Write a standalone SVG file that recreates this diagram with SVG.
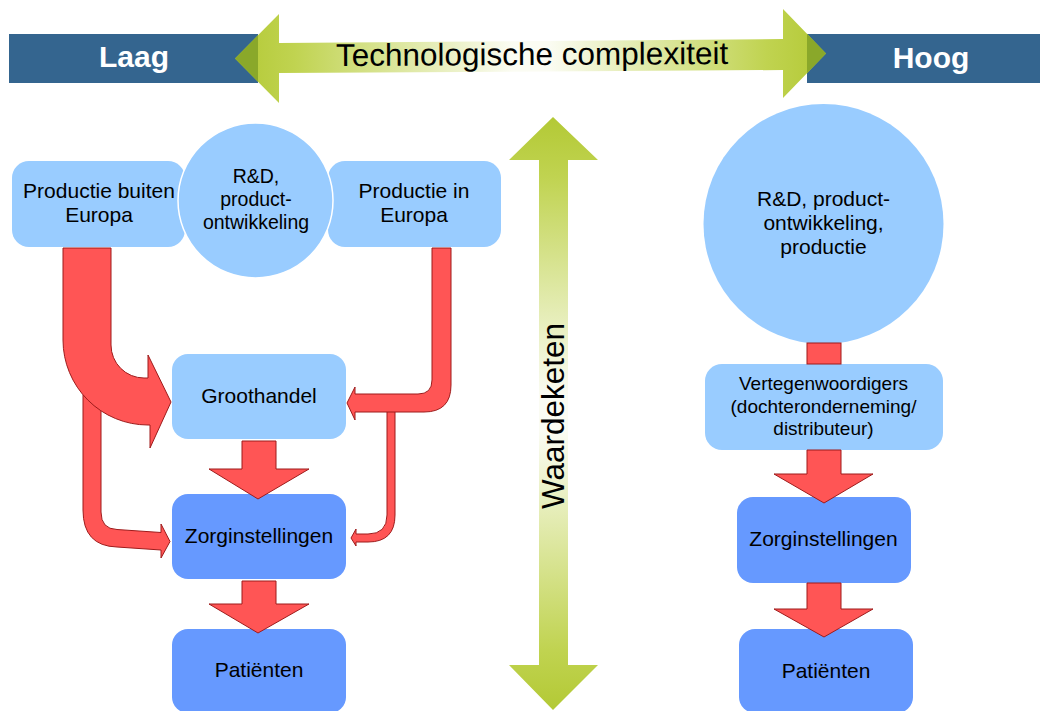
<svg xmlns="http://www.w3.org/2000/svg" width="1046" height="711" viewBox="0 0 1046 711">
<style>
text{font-family:"Liberation Sans",Arial,sans-serif;fill:#000;text-anchor:middle}
.bar{fill:#34658f}
.bartxt{fill:#fff;font-weight:bold;font-size:30px}
.big{font-size:31.5px}
.lt{fill:#99ccff}
.dk{fill:#6699ff}
.circ{fill:#99ccff;stroke:#fff;stroke-width:1.5}
.t21{font-size:21px}
.t19{font-size:19.5px}
.red{fill:#ff5555;stroke:#9e1b1b;stroke-width:1}
.dark{fill:#8aa82a}
</style>
<defs>
<linearGradient id="gh" gradientUnits="userSpaceOnUse" x1="235" y1="0" x2="826" y2="0">
<stop offset="0" stop-color="#b3c935"/>
<stop offset="0.1" stop-color="#c0d350"/>
<stop offset="0.47" stop-color="#fbfcf3"/>
<stop offset="0.53" stop-color="#fbfcf3"/>
<stop offset="0.9" stop-color="#c0d350"/>
<stop offset="1" stop-color="#b3c935"/>
</linearGradient>
<linearGradient id="gv" gradientUnits="userSpaceOnUse" x1="0" y1="117" x2="0" y2="710">
<stop offset="0" stop-color="#b3c935"/>
<stop offset="0.1" stop-color="#c0d350"/>
<stop offset="0.47" stop-color="#fbfcf3"/>
<stop offset="0.53" stop-color="#fbfcf3"/>
<stop offset="0.9" stop-color="#c0d350"/>
<stop offset="1" stop-color="#b3c935"/>
</linearGradient>
</defs>
<rect width="1046" height="711" fill="#fff"/>

<g id="axis-top">
<rect class="bar" x="9" y="34" width="249" height="49"/>
<rect class="bar" x="807" y="34" width="233" height="49"/>
<text class="bartxt" x="134" y="67">Laag</text>
<text class="bartxt" x="931" y="68">Hoog</text>
<polygon fill="url(#gh)" points="235,58.5 279,14 279,43 783,39 783,9 826,53.5 783,98 783,70 279,73 279,103"/>
<polygon class="dark" points="235,58.5 258,35.2 258,81.8"/>
<polygon class="dark" points="807,33.8 826,53.5 807,73.2"/>
<text class="big" x="532" y="65" transform="rotate(-0.3 532 55)">Technologische complexiteit</text>
</g>

<g id="axis-vertical">
<polygon fill="url(#gv)" points="553,117 598,160 568,160 568,665 598,665 553,710 509,665 539,665 539,160 509,160"/>
<text class="big" transform="translate(564,416) rotate(-90)">Waardeketen</text>
</g>

<g id="node-productie-buiten">
<rect class="lt" x="12" y="161" width="173" height="86" rx="17"/>
<text class="t21" x="99" y="198">Productie buiten</text>
<text class="t21" x="99" y="222">Europa</text>
</g>
<g id="node-productie-in">
<rect class="lt" x="328" y="161" width="173" height="86" rx="17"/>
<text class="t21" x="414" y="198">Productie in</text>
<text class="t21" x="414" y="222">Europa</text>
</g>
<g id="node-rd-left">
<circle class="circ" cx="255.5" cy="200.5" r="77.5"/>
<text class="t19" x="256" y="183">R&amp;D,</text>
<text class="t19" x="256" y="206">product-</text>
<text class="t19" x="256" y="229">ontwikkeling</text>
</g>
<g id="node-groothandel">
<rect class="lt" x="172" y="354" width="174" height="85" rx="16"/>
<text class="t21" x="259" y="403">Groothandel</text>
</g>
<g id="node-zorg-left">
<rect class="dk" x="172" y="494" width="174" height="85" rx="16"/>
<text class="t21" x="259" y="543">Zorginstellingen</text>
</g>
<g id="node-patienten-left">
<rect class="dk" x="172" y="629" width="174" height="84" rx="16"/>
<text class="t21" x="259" y="677">Patiënten</text>
</g>

<g id="node-rd-right">
<circle class="lt" cx="823.5" cy="224" r="120"/>
<text class="t21" x="823.5" y="206">R&amp;D, product-</text>
<text class="t21" x="823.5" y="230">ontwikkeling,</text>
<text class="t21" x="823.5" y="254">productie</text>
</g>
<g id="node-vertegenwoordigers">
<rect class="lt" x="705" y="364" width="238" height="86" rx="17"/>
<text x="823.5" y="390" style="font-size:19px">Vertegenwoordigers</text>
<text x="823.5" y="413" style="font-size:19px">(dochteronderneming/</text>
<text x="823.5" y="435" style="font-size:19px">distributeur)</text>
</g>
<g id="node-zorg-right">
<rect class="dk" x="737" y="497" width="174" height="86" rx="16"/>
<text class="t21" x="823.5" y="546">Zorginstellingen</text>
</g>
<g id="node-patienten-right">
<rect class="dk" x="739" y="629" width="174" height="84" rx="16"/>
<text class="t21" x="826" y="678">Patiënten</text>
</g>

<g id="connectors">
<!-- left thin: buiten Europa -> Zorginstellingen -->
<path class="red" d="M83,395 L101,395 L101,512 Q101,529 117,529.5 L161,532.5 L161,524 L170,541.5 L161,558 L161,550 L117,547 Q83,546 83,510 Z"/>
<!-- left thick: buiten Europa -> Groothandel -->
<path class="red" d="M63,248 L111,248 L111,345 A33,33 0 0 0 144,378 L148,378 L148,355 L171,402 L150,448 L150,425 L148,425 A85,85 0 0 1 63,340 Z"/>
<!-- right thin: in Europa -> Zorginstellingen -->
<path class="red" d="M387,410 L395,410 L395,515 Q395,542 368,542 L356,542 L356,546 L351,538 L356,529 L356,534 L368,534 Q387,534 387,515 Z"/>
<!-- right thick: in Europa -> Groothandel -->
<path class="red" d="M432,248 L451,248 L451,385 Q451,412 424,412 L355,412 L355,420 L347,403 L355,387 L355,394 L418,394 Q432,394 432,380 Z"/>
<!-- Groothandel -> Zorginstellingen -->
<path class="red" d="M242,441 L276,441 L276,469 L309,469 L258,499 L209,469 L242,469 Z"/>
<!-- Zorginstellingen -> Patienten -->
<path class="red" d="M242,581 L276,581 L276,604 L309,604 L258,633 L209,604 L242,604 Z"/>
<!-- right: circle -> Vertegenwoordigers -->
<rect class="red" x="807" y="343" width="34" height="21"/>
<!-- Vertegenwoordigers -> Zorginstellingen -->
<path class="red" d="M807,450 L841,450 L841,474 L873,474 L824,503 L774,474 L807,474 Z"/>
<!-- Zorginstellingen -> Patienten -->
<path class="red" d="M807,583 L841,583 L841,609 L873,609 L824,637 L774,609 L807,609 Z"/>
</g>
</svg>
